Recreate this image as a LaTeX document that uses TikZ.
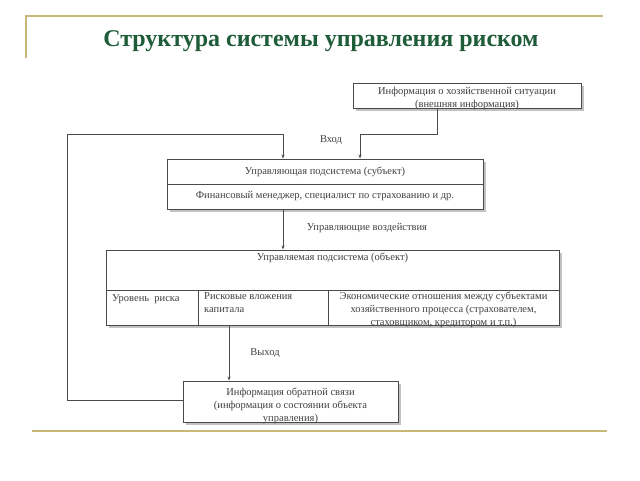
\documentclass[tikz,border=0pt]{standalone}
\usepackage{fontspec}
\setmainfont{Liberation Serif}
\usetikzlibrary{shadows,arrows.meta}
\definecolor{gold}{HTML}{C9B77C}
\definecolor{titlegreen}{HTML}{1F5C3A}
\definecolor{linegray}{HTML}{4A4A4A}
\tikzset{
  box/.style={draw=linegray, line width=0.9pt, fill=white, inner sep=0pt, font=\fontsize{10.5}{13}\selectfont, text=black!75},
  shbox/.style={box, drop shadow={shadow xshift=2.5pt, shadow yshift=-2.5pt, fill=black!40, opacity=0.6}},
  cell/.style={draw=linegray, line width=0.9pt, inner sep=0pt, font=\fontsize{10.5}{13}\selectfont, text=black!75},
  conn/.style={draw=linegray, line width=0.8pt},
  arr/.style={conn, -{Stealth[length=4pt,width=3pt]}},
  lbl/.style={font=\fontsize{10.5}{13}\selectfont, text=black!75, inner sep=0pt},
  rule/.style={draw=gold, line width=1.6pt}
}
\begin{document}
\begin{tikzpicture}[x=1pt,y=-1pt]
\useasboundingbox (0,0) rectangle (640,480);
% frame rules
\coordinate (tl) at (26,16);
\coordinate (tr) at (603,16);
\coordinate (tlb) at (26,58);
\coordinate (bl) at (32,431);
\coordinate (br) at (607,431);
\draw[rule] (tlb) -- (tl) -- (tr);
\draw[rule] (bl) -- (br);
% title
\node[inner sep=0pt, text=titlegreen, font=\fontsize{24}{28}\selectfont\bfseries] (title) at (321,41) {Структура системы управления риском};

% info box
\node[shbox, minimum width=228pt, minimum height=25pt] (info) at (467,96) {};
\node[lbl, align=center] (infot) at (467,98) {Информация о хозяйственной ситуации\\(внешняя информация)};

% control subsystem
\node[shbox, minimum width=316pt, minimum height=50pt] (ctrl) at (325,184) {};
\node[cell, minimum width=316pt, minimum height=25pt] (ctrlA) at (325,171.5) {Управляющая подсистема (субъект)};
\node[cell, minimum width=316pt, minimum height=25pt] (ctrlB) at (325,196.5) {Финансовый менеджер, специалист по страхованию и др.};

% controlled subsystem
\node[shbox, minimum width=453pt, minimum height=75pt] (obj) at (332.5,287.5) {};
\node[cell, minimum width=453pt, minimum height=40pt, anchor=north] (objA) at (332.5,250) {};
\node[lbl, anchor=north] (objAt) at (332.5,253) {Управляемая подсистема (объект)};
\node[cell, minimum width=92pt, minimum height=35pt, anchor=north west] (c1) at (106,290) {};
\node[cell, minimum width=130pt, minimum height=35pt, anchor=north west] (c2) at (198,290) {};
\node[cell, minimum width=231pt, minimum height=35pt, anchor=north west] (c3) at (328,290) {};
\node[lbl, anchor=north west] (c1t) at (112,294) {Уровень\ \ риска};
\node[lbl, anchor=north west, align=left] (c2t) at (204,292) {Рисковые вложения\\капитала};
\node[lbl, anchor=north, align=center] (c3t) at (443.5,292) {Экономические отношения между субъектами\\хозяйственного процесса (страхователем,\\стаховщиком, кредитором и т.п.)};

% feedback box
\node[shbox, minimum width=215pt, minimum height=41pt] (fb) at (290.5,401.5) {};
\node[lbl, anchor=north, align=center] (fbt) at (290.5,388) {Информация обратной связи\\(информация о состоянии объекта\\управления)};

% connectors
\coordinate (bendA) at (437,134);
\coordinate (bendB) at (360,134);
\draw[arr] ([xshift=-30pt]info.south) -- (bendA) -- (bendB) -- (bendB |- ctrl.north);

\coordinate (loopA) at (67,400);
\coordinate (loopB) at (67,134);
\coordinate (loopC) at (283,134);
\draw[arr] (fb.west |- loopA) -- (loopA) -- (loopB) -- (loopC) -- (loopC |- ctrl.north);

\draw[arr] (loopC |- ctrl.south) -- (loopC |- obj.north);

\coordinate (outX) at (229,353);
\draw[arr] (outX |- obj.south) -- (outX |- fb.north);

% labels
\node[lbl] (vhod) at (331,140) {Вход};
\node[lbl] (upr) at (367,228) {Управляющие воздействия};
\node[lbl] (vyhod) at (265,353) {Выход};
\end{tikzpicture}
\end{document}
